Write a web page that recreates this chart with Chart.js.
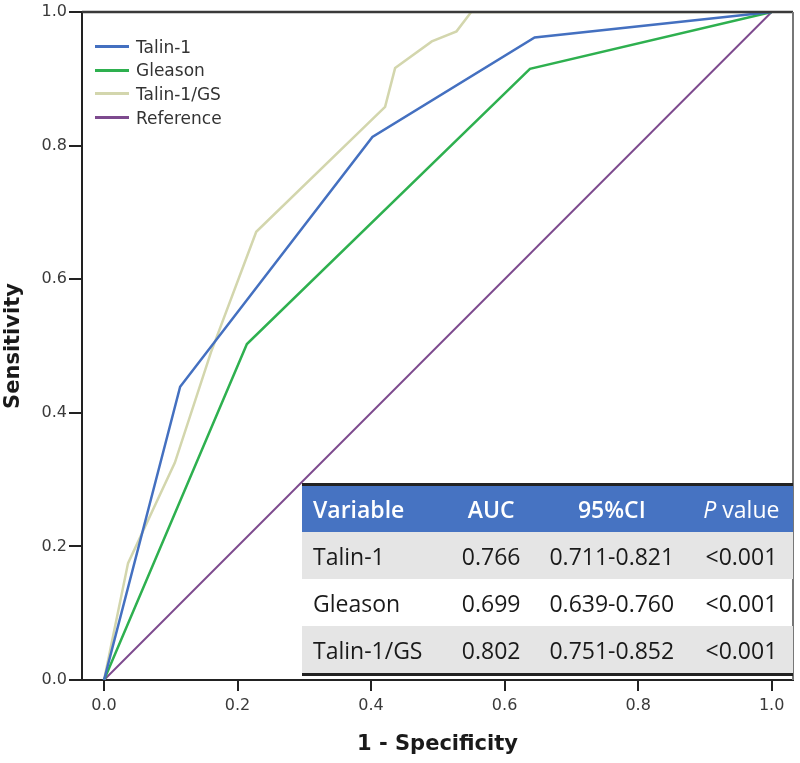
<!DOCTYPE html>
<html>
<head>
<meta charset="utf-8">
<script src="https://cdn.jsdelivr.net/npm/chart.js@4.4.1/dist/chart.umd.min.js"></script>
<style>
  body { margin: 0; background: #fff; }
  #wrap { position: relative; width: 800px; height: 763px; }
  #legend { position: absolute; left: 95px; top: 35px; font-family: "DejaVu Sans", sans-serif; font-size: 17px; color: #333; }
  #legend div { height: 23.6px; display: flex; align-items: center; }
  #legend span.swatch { display: inline-block; width: 34px; height: 3px; margin-right: 7px; }
  #rocTable { position: absolute; left: 302px; top: 483px; width: 491px; border-collapse: collapse;
    font-family: "Open Sans", sans-serif; font-size: 23px; color: #1a1a1a; border-top: 3px solid #222; border-bottom: 3px solid #222; }
  #rocTable th { background: #4673c2; color: #fff; font-weight: 600; height: 46px; padding: 0; }
  #rocTable td { height: 47px; padding: 0; text-align: center; }
  #rocTable tr.grey td { background: #e5e5e5; }
  #rocTable .first { text-align: left; padding-left: 11px; }
</style>
</head>
<body>
<div id="wrap">
  <canvas id="myChart"></canvas>
  <div id="legend"></div>
  <table id="rocTable"><thead><tr id="headRow"></tr></thead><tbody id="tableBody"></tbody></table>
</div>
<script>
// ROC curves (x = 1 - specificity, y = sensitivity)
const talinX = [0, 0.114, 0.402, 0.645, 1]
const talinY = [0, 0.439, 0.813, 0.962, 1]
const gleasonX = [0, 0.214, 0.638, 1]
const gleasonY = [0, 0.503, 0.915, 1]
const ratioX = [0, 0.036, 0.106, 0.16, 0.228, 0.421, 0.436, 0.491, 0.528, 0.55, 1]
const ratioY = [0, 0.175, 0.325, 0.49, 0.671, 0.858, 0.916, 0.956, 0.971, 1, 1]
const refX = [0, 1]
const refY = [0, 1]

const seriesNames = ['Talin-1', 'Gleason', 'Talin-1/GS', 'Reference']
const seriesColors = ['#4470c0', '#2eb04f', '#d3d6ad', '#7d4a8e']
const tickValues = [0, 0.2, 0.4, 0.6, 0.8, 1.0]

// table in the lower right
const tableHead = ['Variable', 'AUC', '95%CI', 'P value']
const tableVars = ['Talin-1', 'Gleason', 'Talin-1/GS']
const tableAUC = ['0.766', '0.699', '0.802']
const tableCI = ['0.711-0.821', '0.639-0.760', '0.751-0.852']
const tableP = ['<0.001', '<0.001', '<0.001']

function toPoints(xs, ys) {
  return xs.map((x, i) => ({ x: x, y: ys[i] }))
}

const allX = [talinX, gleasonX, ratioX, refX]
const allY = [talinY, gleasonY, ratioY, refY]
const datasets = seriesNames.map((name, i) => ({
  label: name,
  data: toPoints(allX[i], allY[i]),
  borderColor: seriesColors[i],
  borderWidth: i == 3 ? 2 : 2.5,
  pointRadius: 0,
  tension: 0,
  fill: false
}))

const frame = {
  id: 'frame',
  afterDatasetsDraw(chart) {
    const a = chart.chartArea
    const c = chart.ctx
    c.save()
    c.lineWidth = 2.5
    c.strokeStyle = '#3a3a3a'
    c.beginPath(); c.moveTo(a.left, a.top); c.lineTo(a.right, a.top); c.stroke()
    c.lineWidth = 2
    c.strokeStyle = '#777'
    c.beginPath(); c.moveTo(a.right, a.top); c.lineTo(a.right, a.bottom); c.stroke()
    c.restore()
  }
}

const tickFont = { family: 'DejaVu Sans', size: 16 }
const titleFont = { family: 'DejaVu Sans', size: 21, weight: 'bold' }

const ctx = document.getElementById('myChart')
const chart = new Chart(ctx, {
  type: 'line',
  data: { datasets: datasets },
  plugins: [frame],
  options: {
    responsive: true,
    maintainAspectRatio: false,
    animation: false,
    layout: { padding: { top: 12, right: 7, left: 0, bottom: 0 } },
    plugins: { legend: { display: false }, tooltip: { enabled: false } },
    scales: {
      x: {
        type: 'linear',
        min: -0.033,
        max: 1.032,
        afterBuildTicks: (s) => { s.ticks = tickValues.map(v => ({ value: v })) },
        afterFit: (s) => { s.height = 83 },
        border: { color: '#222', width: 2 },
        grid: { drawOnChartArea: false, tickLength: 11, color: '#222', lineWidth: 2 },
        ticks: { padding: 5, color: '#3a3a3a', font: tickFont, callback: v => v.toFixed(1) },
        title: { display: true, text: '1 - Specificity', color: '#1a1a1a', font: titleFont, padding: { top: 0, bottom: 6 } }
      },
      y: {
        min: 0,
        max: 1,
        afterBuildTicks: (s) => { s.ticks = tickValues.map(v => ({ value: v })) },
        afterFit: (s) => { s.width = 82 },
        border: { color: '#222', width: 2 },
        grid: { drawOnChartArea: false, tickLength: 13, color: '#222', lineWidth: 2 },
        ticks: { padding: 2, color: '#3a3a3a', font: tickFont, callback: v => v.toFixed(1) },
        title: { display: true, text: 'Sensitivity', color: '#1a1a1a', font: titleFont, padding: { top: 1, bottom: 0 } }
      }
    }
  }
})

// legend
const legend = document.getElementById('legend')
chart.data.datasets.forEach(ds => {
  const row = document.createElement('div')
  const sw = document.createElement('span')
  sw.className = 'swatch'
  sw.style.background = ds.borderColor
  row.appendChild(sw)
  row.appendChild(document.createTextNode(ds.label))
  legend.appendChild(row)
})

// table
const headRow = document.getElementById('headRow')
tableHead.forEach((h, i) => {
  const th = document.createElement('th')
  if (i == 0) th.className = 'first'
  if (h == 'P value') {
    th.innerHTML = '<i style="font-weight:400">P</i><span style="font-weight:400"> value</span>'
  } else {
    th.textContent = h
  }
  headRow.appendChild(th)
})
const widths = ['138px', '87px', '161px', '105px']
headRow.querySelectorAll('th').forEach((th, i) => { th.style.width = widths[i] })

const tableBody = document.getElementById('tableBody')
tableVars.forEach((v, i) => {
  const row = document.createElement('tr')
  if (i != 1) row.className = 'grey'
  const cells = [v, tableAUC[i], tableCI[i], tableP[i]]
  cells.forEach((t, j) => {
    const td = document.createElement('td')
    if (j == 0) td.className = 'first'
    td.textContent = t
    row.appendChild(td)
  })
  tableBody.appendChild(row)
})
</script>
</body>
</html>
